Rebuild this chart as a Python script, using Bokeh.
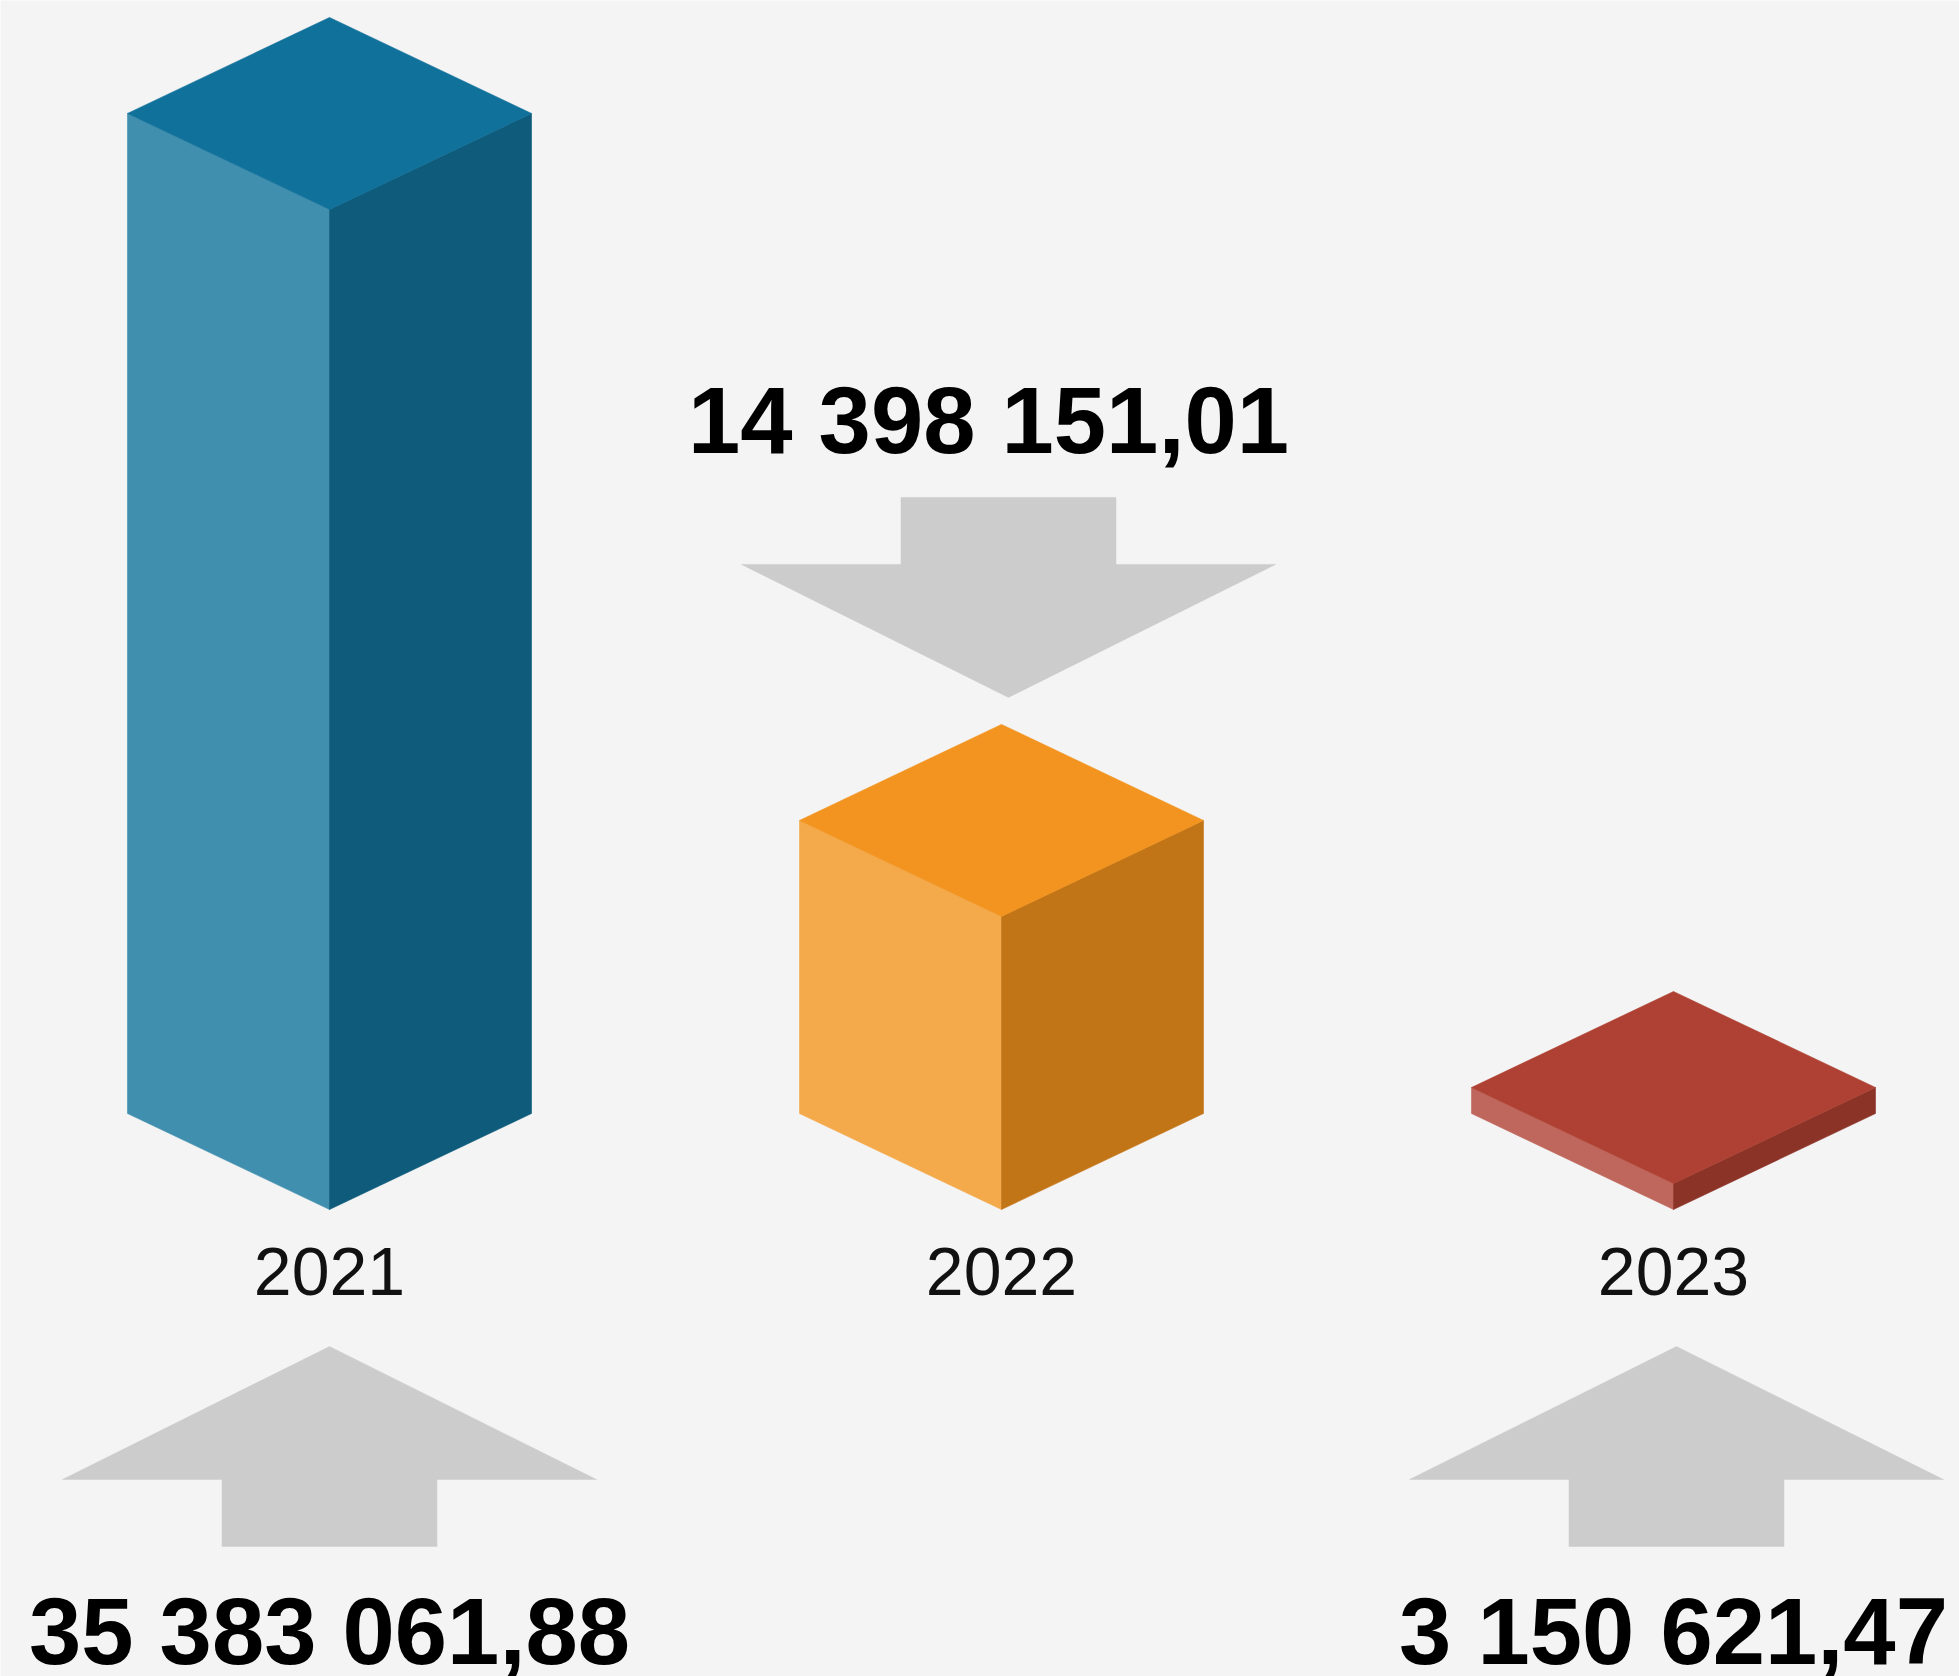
from bokeh.plotting import figure
from bokeh.models import Range1d, ColumnDataSource
from bokeh.core.properties import value
from bokeh.embed import file_html
from bokeh.resources import INLINE

# ---- data ----
years = ["2021", "2022", "2023"]
amounts = [35383061.88, 14398151.01, 3150621.47]
amount_labels = ["35 383 061,88", "14 398 151,01", "3 150 621,47"]
label_side = ["below", "above", "below"]

top_colors = ["#10719b", "#f2941f", "#ae4133"]
left_colors = ["#418faf", "#f4a94b", "#bf675c"]
right_colors = ["#0e5b7b", "#c27517", "#8c3328"]
arrow_color = "#cccccc"
bg = "#f4f4f4"

# small horizontal nudges (pixels) of arrows and value labels
arrow_dx = [0, 7, 3]
label_dx = [0, -13, 0]

# ---- layout constants (pixels) ----
W, H = 1959, 1676
PX_PER_CAT = 672.0       # horizontal distance between categories
PX_PER_M = 33.69         # pixels per million
CAT0_X = 329.0           # x of first category
BASE_Y = 1209.0          # y (from top) of value 0

def ux(px):
    return px / PX_PER_CAT

def uy(px):
    return px / PX_PER_M

p = figure(width=W, height=H, output_backend="svg", toolbar_location=None,
           x_range=Range1d(-CAT0_X / PX_PER_CAT, (W - CAT0_X) / PX_PER_CAT),
           y_range=Range1d(-(H - BASE_Y) / PX_PER_M, BASE_Y / PX_PER_M),
           x_axis_type=None, y_axis_type=None, min_border=0)
p.background_fill_color = bg
p.border_fill_color = bg
p.outline_line_color = None
p.grid.visible = False

hw = ux(202)          # half width of block
dh = uy(96)           # half height of the top diamond
min_edge = uy(26)     # minimal thickness

tops = {"xs": [], "ys": [], "c": []}
lefts = {"xs": [], "ys": [], "c": []}
rights = {"xs": [], "ys": [], "c": []}
arrows = {"xs": [], "ys": []}
num_x, num_y, num_t = [], [], []
year_x, year_y = [], []

head_h, stem_h = uy(133), uy(67)
head_hw, stem_hw = ux(267), ux(107.5)

NUM_FS, YEAR_FS = 94, 68
BASE_FIX = 0.34  # empirical baseline correction (em)

for i, (yr, amt, lab, side) in enumerate(zip(years, amounts, amount_labels, label_side)):
    cx = float(i)
    v = amt / 1e6
    t = max(v, 2 * dh + min_edge)
    tops["xs"].append([cx, cx + hw, cx, cx - hw])
    tops["ys"].append([t, t - dh, t - 2 * dh, t - dh])
    tops["c"].append(top_colors[i])
    lefts["xs"].append([cx - hw, cx, cx, cx - hw])
    lefts["ys"].append([t - dh, t - 2 * dh, 0, dh])
    lefts["c"].append(left_colors[i])
    rights["xs"].append([cx + hw, cx + hw, cx, cx])
    rights["ys"].append([t - dh, dh, 0, t - 2 * dh])
    rights["c"].append(right_colors[i])

    year_x.append(cx)
    year_y.append(-uy(85) + uy(BASE_FIX * YEAR_FS))

    if side == "below":
        apex = -uy(137)
        wing = apex - head_h
        foot = wing - stem_h
        num_y.append(foot - uy(117) + uy(BASE_FIX * NUM_FS))
    else:
        apex = t + uy(27)
        wing = apex + head_h
        foot = wing + stem_h
        num_y.append(foot + uy(45) + uy(BASE_FIX * NUM_FS))
    ax = cx + ux(arrow_dx[i])
    arrows["xs"].append([ax, ax + head_hw, ax + stem_hw, ax + stem_hw,
                         ax - stem_hw, ax - stem_hw, ax - head_hw])
    arrows["ys"].append([apex, wing, wing, foot, foot, wing, wing])
    num_x.append(cx + ux(label_dx[i]))
    num_t.append(lab)

p.patches("xs", "ys", source=ColumnDataSource(arrows), fill_color=arrow_color,
          line_color=arrow_color, line_width=0.5)
for d in (lefts, rights, tops):
    p.patches("xs", "ys", source=ColumnDataSource(d), fill_color="c",
              line_color="c", line_width=0.6)

p.text(x=year_x, y=year_y, text=years, text_align="center", text_baseline="alphabetic",
       text_font=value("Liberation Sans"), text_font_size=f"{YEAR_FS}px", text_color="#111111")
p.text(x=num_x, y=num_y, text=num_t, text_align="center", text_baseline="alphabetic",
       text_font=value("Liberation Sans"), text_font_style="bold",
       text_font_size=f"{NUM_FS}px", text_color="#000000")

html = file_html(p, INLINE)
html = html.replace("<body>", '<body style="background-color:#f4f4f4;">', 1)
open("out.html", "w").write(html)
